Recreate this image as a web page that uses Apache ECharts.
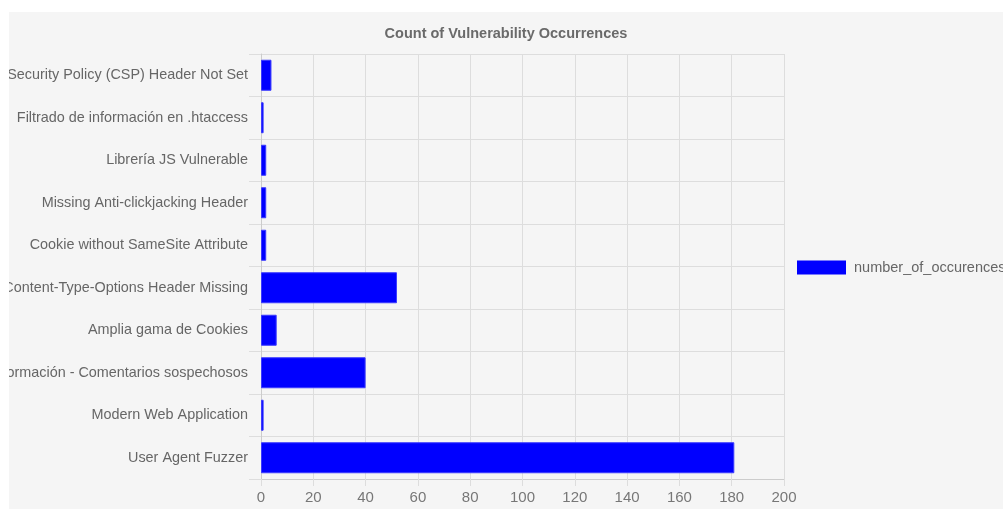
<!DOCTYPE html>
<html>
<head>
<meta charset="utf-8">
<script src="https://cdn.jsdelivr.net/npm/echarts@6/dist/echarts.min.js"></script>
<style>
  html, body { margin: 0; padding: 0; background: #ffffff; }
  #chart { position: absolute; left: 9px; top: 12px; width: 994px; height: 497px; background: #f5f5f5; }
</style>
</head>
<body>
<div id="chart"></div>
<script>
  // categories top to bottom, as shown
  var categories = [
    'Content Security Policy (CSP) Header Not Set',
    'Filtrado de información en .htaccess',
    'Librería JS Vulnerable',
    'Missing Anti-clickjacking Header',
    'Cookie without SameSite Attribute',
    'X-Content-Type-Options Header Missing',
    'Amplia gama de Cookies',
    'Divulgación de información - Comentarios sospechosos',
    'Modern Web Application',
    'User Agent Fuzzer'
  ]
  var occurrences = [4, 1, 2, 2, 2, 52, 6, 40, 1, 181]
  var seriesName = 'number_of_occurences'

  var chart = echarts.init(document.getElementById('chart'))
  chart.setOption({
    backgroundColor: '#f5f5f5',
    textStyle: { fontFamily: 'Liberation Sans, Arial, sans-serif' },
    title: {
      text: 'Count of Vulnerability Occurrences',
      left: 'center',
      top: 9,
      textStyle: { fontSize: 14.5, fontWeight: 'bold', color: '#6a6a6a' }
    },
    legend: {
      orient: 'vertical',
      left: 783,
      top: 243,
      icon: 'rect',
      itemWidth: 49,
      itemHeight: 14,
      itemGap: 6,
      textStyle: { fontSize: 14.5, color: '#666', padding: [0, 0, 0, 3] },
      itemStyle: { borderWidth: 0 },
      data: [seriesName]
    },
    grid: {
      left: 252,
      top: 42,
      width: 523,
      bottom: 30,
      outerBoundsMode: 'none',
      containLabel: false
    },
    xAxis: {
      type: 'value',
      min: 0,
      max: 200,
      interval: 20,
      axisLine: { show: true, lineStyle: { color: '#ccc' } },
      axisTick: { show: true, length: 7, lineStyle: { color: '#ddd' } },
      axisLabel: { color: '#777', fontSize: 15, margin: 11 },
      splitLine: { show: true, lineStyle: { color: '#ddd' } }
    },
    yAxis: {
      type: 'category',
      inverse: true,
      data: categories,
      axisLine: { show: true, lineStyle: { color: '#ccc' } },
      axisTick: { show: true, length: 12, lineStyle: { color: '#ddd' } },
      axisLabel: { color: '#666', fontSize: 14.4, margin: 13 },
      splitLine: { show: true, lineStyle: { color: '#ddd' } }
    },
    series: [{
      name: seriesName,
      type: 'bar',
      data: occurrences,
      barCategoryGap: '27%',
      itemStyle: { color: '#0000ff', borderColor: '#3b3bff', borderWidth: 1 }
    }]
  })
</script>
</body>
</html>
